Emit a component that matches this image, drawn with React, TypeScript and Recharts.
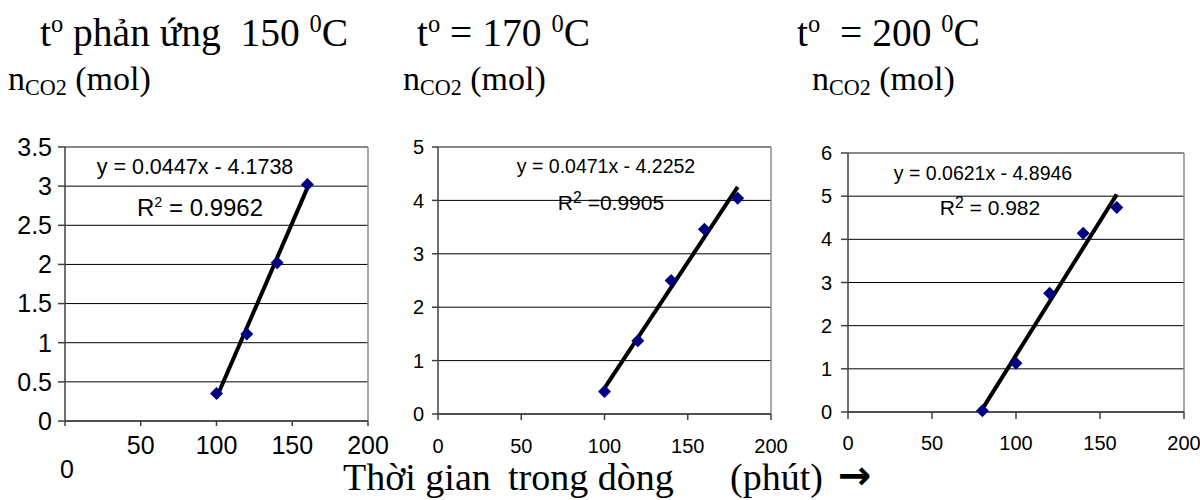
import React from 'react';
import { ScatterChart, Scatter, XAxis, YAxis, CartesianGrid, ReferenceLine } from 'recharts';

// ---------- data ----------
const xTicks = [0, 50, 100, 150, 200];

const time150 = [100, 120, 140, 160];
const co2At150 = [0.35, 1.11, 2.02, 3.02];
const yTicks150 = [0, 0.5, 1, 1.5, 2, 2.5, 3, 3.5];
const fit150 = { slope: 0.0447, intercept: -4.1738, r2: '0.9962' };

const time170 = [100, 120, 140, 160, 180];
const co2At170 = [0.42, 1.37, 2.5, 3.46, 4.04];
const yTicks170 = [0, 1, 2, 3, 4, 5];
const fit170 = { slope: 0.0471, intercept: -4.2252, r2: '0.9905' };

const time200 = [80, 100, 120, 140, 160];
const co2At200 = [0.03, 1.13, 2.75, 4.14, 4.74];
const yTicks200 = [0, 1, 2, 3, 4, 5, 6];
const fit200 = { slope: 0.0621, intercept: -4.8946, r2: '0.982' };

const SANS = '"Liberation Sans", Arial, sans-serif';
const SERIF = '"Liberation Serif", "Times New Roman", serif';

const toPoints = (xs: number[], ys: number[]) => xs.map((x, i) => ({ x, y: ys[i] }));
const fitPoints = (xs: number[], f: { slope: number; intercept: number }) => {
  const a = xs[0];
  const b = xs[xs.length - 1];
  return [
    { x: a, y: f.slope * a + f.intercept },
    { x: b, y: f.slope * b + f.intercept },
  ];
};

const Diamond = (props: any) => {
  const { cx, cy } = props;
  if (cx == null || cy == null) return <g />;
  const r = 6.5;
  return (
    <polygon
      points={`${cx},${cy - r} ${cx + r},${cy} ${cx},${cy + r} ${cx - r},${cy}`}
      fill="#000080"
    />
  );
};

type PanelProps = {
  left: number;
  top: number;
  width: number;
  height: number;
  margin: { top: number; right: number; bottom: number; left: number };
  yAxisWidth: number;
  yTicks: number[];
  xs: number[];
  ys: number[];
  fit: { slope: number; intercept: number };
  fontSize: number;
  xTickSize: number;
  xTickMargin: number;
  yTickSize: number;
  yTickMargin: number;
  lowZero?: number;
};

function Panel(p: PanelProps) {
  const yMax = p.yTicks[p.yTicks.length - 1];
  const XTick = (props: any) => {
    const { x, y, payload } = props;
    const extra = payload.value === 0 ? p.lowZero || 0 : 0;
    return (
      <text
        x={x + (payload.value === 0 && p.lowZero ? 2 : 0)}
        y={y + extra}
        dy="0.71em"
        textAnchor="middle"
        fill="#000"
        fontSize={p.fontSize}
        fontFamily={SANS}
      >
        {payload.value}
      </text>
    );
  };
  const YTick = (props: any) => {
    const { x, y, payload } = props;
    return (
      <text x={x} y={y} dy="0.355em" textAnchor="end" fill="#000" fontSize={p.fontSize} fontFamily={SANS}>
        {payload.value}
      </text>
    );
  };
  const seg = fitPoints(p.xs, p.fit);
  return (
    <div style={{ position: 'absolute', left: p.left, top: p.top }}>
      <ScatterChart width={p.width} height={p.height} margin={p.margin}>
        <CartesianGrid horizontal vertical={false} stroke="#000" strokeWidth={1} />
        <XAxis
          type="number"
          dataKey="x"
          domain={[0, 200]}
          ticks={xTicks}
          interval={0}
          height={30}
          axisLine={{ stroke: '#404040', strokeWidth: 1.5 }}
          tickLine={{ stroke: '#404040', strokeWidth: 1.5 }}
          tickSize={p.xTickSize}
          tickMargin={p.xTickMargin}
          tick={<XTick />}
        />
        <YAxis
          type="number"
          dataKey="y"
          domain={[0, yMax]}
          ticks={p.yTicks}
          interval={0}
          width={p.yAxisWidth}
          axisLine={{ stroke: '#404040', strokeWidth: 1.5 }}
          tickLine={{ stroke: '#404040', strokeWidth: 1.5 }}
          tickSize={p.yTickSize}
          tickMargin={p.yTickMargin}
          tick={<YTick />}
        />
        <ReferenceLine y={yMax} stroke="#8c8c8c" strokeWidth={1.5} />
        <ReferenceLine x={200} stroke="#8c8c8c" strokeWidth={1.5} />
        <Scatter
          data={toPoints(p.xs, p.ys)}
          shape={<Diamond />}
          isAnimationActive={false}
        />
        <ReferenceLine
          segment={seg}
          stroke="#000"
          strokeWidth={4}
          strokeLinecap="butt"
          ifOverflow="visible"
        />
      </ScatterChart>
    </div>
  );
}

// text placed by baseline
function T(props: {
  x: number;
  baseline: number;
  size: number;
  serif?: boolean;
  center?: boolean;
  family?: string;
  weight?: number;
  children: React.ReactNode;
}) {
  const fam = props.family || (props.serif ? SERIF : SANS);
  const asc = props.serif ? 0.837 : 0.846;
  const style: React.CSSProperties = {
    position: 'absolute',
    top: props.baseline - asc * props.size,
    fontSize: props.size,
    lineHeight: 1,
    fontFamily: fam,
    whiteSpace: 'pre',
    color: '#000',
    fontWeight: props.weight || 400,
  };
  if (props.center) {
    style.left = props.x - 300;
    style.width = 600;
    style.textAlign = 'center';
  } else {
    style.left = props.x;
  }
  return <div style={style}>{props.children}</div>;
}

const Sup = ({ children, k = 0.6, up = 0.75 }: { children: React.ReactNode; k?: number; up?: number }) => (
  <span style={{ fontSize: `${k}em`, position: 'relative', top: `-${up}em` }}>{children}</span>
);
const Sub = ({ children }: { children: React.ReactNode }) => (
  <span style={{ fontSize: '0.65em', position: 'relative', top: '0.25em' }}>{children}</span>
);

const eq = (f: { slope: number; intercept: number }) =>
  `y = ${f.slope}x - ${Math.abs(f.intercept).toFixed(4)}`;

export default function App() {
  return (
    <div
      style={{
        position: 'absolute',
        left: 0,
        top: 0,
        width: 1200,
        height: 500,
        background: '#fff',
        overflow: 'hidden',
      }}
    >
      {/* titles */}
      <T x={40} baseline={47} size={39.5} serif>
        t<Sup k={0.62} up={0.55}>o</Sup> phản ứng  150 <Sup k={0.62} up={0.55}>0</Sup>C
      </T>
      <T x={417} baseline={47} size={39.5} serif>
        t<Sup k={0.62} up={0.55}>o</Sup> = 170 <Sup k={0.62} up={0.55}>0</Sup>C
      </T>
      <T x={797} baseline={47} size={39.5} serif>
        t<Sup k={0.62} up={0.55}>o</Sup>  = 200 <Sup k={0.62} up={0.55}>0</Sup>C
      </T>
      <T x={8} baseline={90} size={34} serif>
        n<Sub>CO2</Sub> (mol)
      </T>
      <T x={403} baseline={90} size={34} serif>
        n<Sub>CO2</Sub> (mol)
      </T>
      <T x={812} baseline={90} size={34} serif>
        n<Sub>CO2</Sub> (mol)
      </T>

      <Panel
        left={0}
        top={130}
        width={395}
        height={370}
        margin={{ top: 17, right: 27, left: 0, bottom: 49 }}
        yAxisWidth={65}
        yTicks={yTicks150}
        xs={time150}
        ys={co2At150}
        fit={fit150}
        fontSize={25}
        xTickSize={5}
        xTickMargin={10}
        yTickSize={7}
        yTickMargin={6}
        lowZero={24}
      />
      <Panel
        left={395}
        top={130}
        width={400}
        height={370}
        margin={{ top: 17, right: 24, left: 0, bottom: 56 }}
        yAxisWidth={43}
        yTicks={yTicks170}
        xs={time170}
        ys={co2At170}
        fit={fit170}
        fontSize={20}
        xTickSize={6}
        xTickMargin={19}
        yTickSize={6}
        yTickMargin={8}
      />
      <Panel
        left={795}
        top={130}
        width={405}
        height={370}
        margin={{ top: 23, right: 16, left: 0, bottom: 58 }}
        yAxisWidth={53}
        yTicks={yTicks200}
        xs={time200}
        ys={co2At200}
        fit={fit200}
        fontSize={20}
        xTickSize={7}
        xTickMargin={17}
        yTickSize={7}
        yTickMargin={9}
      />

      {/* trend-line equations */}
      <T x={195} baseline={175} size={21.5} center>
        {eq(fit150)}
      </T>
      <T x={200} baseline={216} size={24} center>
        R<Sup k={0.6} up={0.6}>2</Sup> = {fit150.r2}
      </T>
      <T x={606} baseline={173} size={19.5} center>
        {eq(fit170)}
      </T>
      <T x={611} baseline={210} size={21} center>
        R<Sup k={0.75} up={0.45}>2</Sup> ={fit170.r2}
      </T>
      <T x={983} baseline={180} size={19.5} center>
        {eq(fit200)}
      </T>
      <T x={990} baseline={215} size={21} center>
        R<Sup k={0.75} up={0.45}>2</Sup> = {fit200.r2}
      </T>

      {/* x-axis caption */}
      <T x={343} baseline={490} size={38} serif>
        Thời gian
      </T>
      <T x={508} baseline={490} size={38} serif>
        trong dòng
      </T>
      <T x={730} baseline={490} size={38} serif>
        (phút)
      </T>
      <div
        style={{
          position: 'absolute',
          left: 838,
          top: 462,
          height: 26,
          lineHeight: '26px',
          fontSize: 40,
          fontFamily: '"DejaVu Sans", sans-serif',
          fontWeight: 700,
          color: '#000',
        }}
      >
        →
      </div>
    </div>
  );
}
